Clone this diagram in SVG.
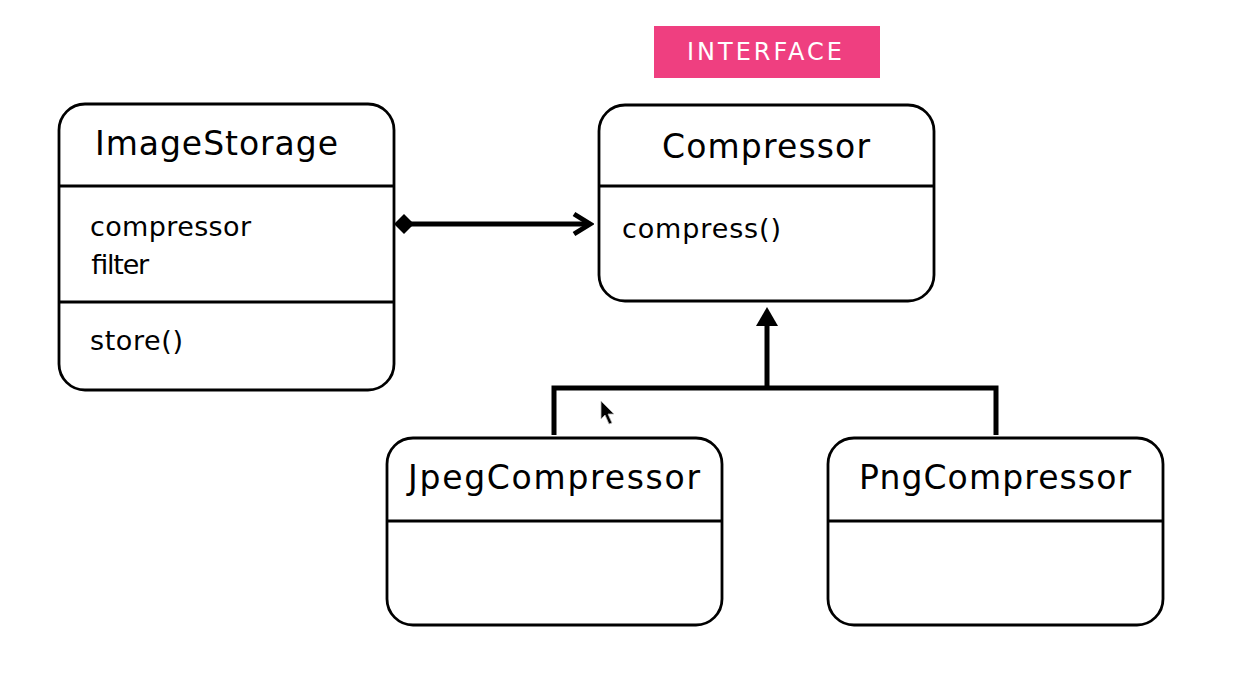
<svg xmlns="http://www.w3.org/2000/svg" width="1236" height="682" viewBox="0 0 1236 682">
<style>
.box{fill:#fff;stroke:#000;stroke-width:2.8}
.div{stroke:#000;stroke-width:2.8}
.title{font-family:"DejaVu Sans","Liberation Sans",sans-serif;font-size:33px;fill:#000}
.body{font-family:"DejaVu Sans","Liberation Sans",sans-serif;font-size:27px;fill:#000}
.conn{stroke:#000;fill:none}
</style>
<defs>
<marker id="open" markerWidth="24" markerHeight="26" refX="20" refY="13" orient="auto" markerUnits="userSpaceOnUse">
<path d="M4,3 L20,13 L4,23" fill="none" stroke="#000" stroke-width="5"/>
</marker>
</defs>
<rect width="1236" height="682" fill="#fff"/>
<g id="interface-label">
<rect x="654" y="26" width="226" height="52" fill="#EF3F80"/>
<text x="687" y="60" font-family="'DejaVu Sans','Liberation Sans',sans-serif" font-size="24" fill="#fff" textLength="155">INTERFACE</text>
</g>
<g id="ImageStorage">
<rect class="box" x="59" y="104" width="335" height="286" rx="26"/>
<line class="div" x1="59" y1="186" x2="394" y2="186"/>
<line class="div" x1="59" y1="302" x2="394" y2="302"/>
<text class="title" x="95" y="155" textLength="243">ImageStorage</text>
<text class="body" x="90" y="236" textLength="161">compressor</text>
<text class="body" x="90" y="274" textLength="58">filter</text>
<text class="body" x="90" y="350" textLength="93">store()</text>
</g>
<g id="Compressor">
<rect class="box" x="599" y="105" width="335" height="196" rx="26"/>
<line class="div" x1="599" y1="186" x2="934" y2="186"/>
<text class="title" x="662" y="158" textLength="208">Compressor</text>
<text class="body" x="622" y="238" textLength="159">compress()</text>
</g>
<g id="JpegCompressor">
<rect class="box" x="387" y="438" width="335" height="187" rx="26"/>
<line class="div" x1="387" y1="521" x2="722" y2="521"/>
<text class="title" x="408" y="489" textLength="292">JpegCompressor</text>
</g>
<g id="PngCompressor">
<rect class="box" x="828" y="438" width="335" height="187" rx="26"/>
<line class="div" x1="828" y1="521" x2="1163" y2="521"/>
<text class="title" x="859" y="489" textLength="272">PngCompressor</text>
</g>
<g id="connectors">
<line class="conn" x1="410" y1="224" x2="590" y2="224" stroke-width="5" marker-end="url(#open)"/>
<polygon points="394,224 404,214 414,224 404,234" fill="#000"/>
<polyline class="conn" points="554,435 554,388 996,388 996,435" stroke-width="5"/>
<line class="conn" x1="767" y1="388" x2="767" y2="322" stroke-width="5"/>
<polygon points="767,307 756,326 778,326" fill="#000"/>
</g>
<g id="cursor">
<polygon points="601,401 601,419 605,415 609,424 612,423 608,414 614,414" fill="#000" stroke="#bbb" stroke-width="0.8"/>
</g>
</svg>
